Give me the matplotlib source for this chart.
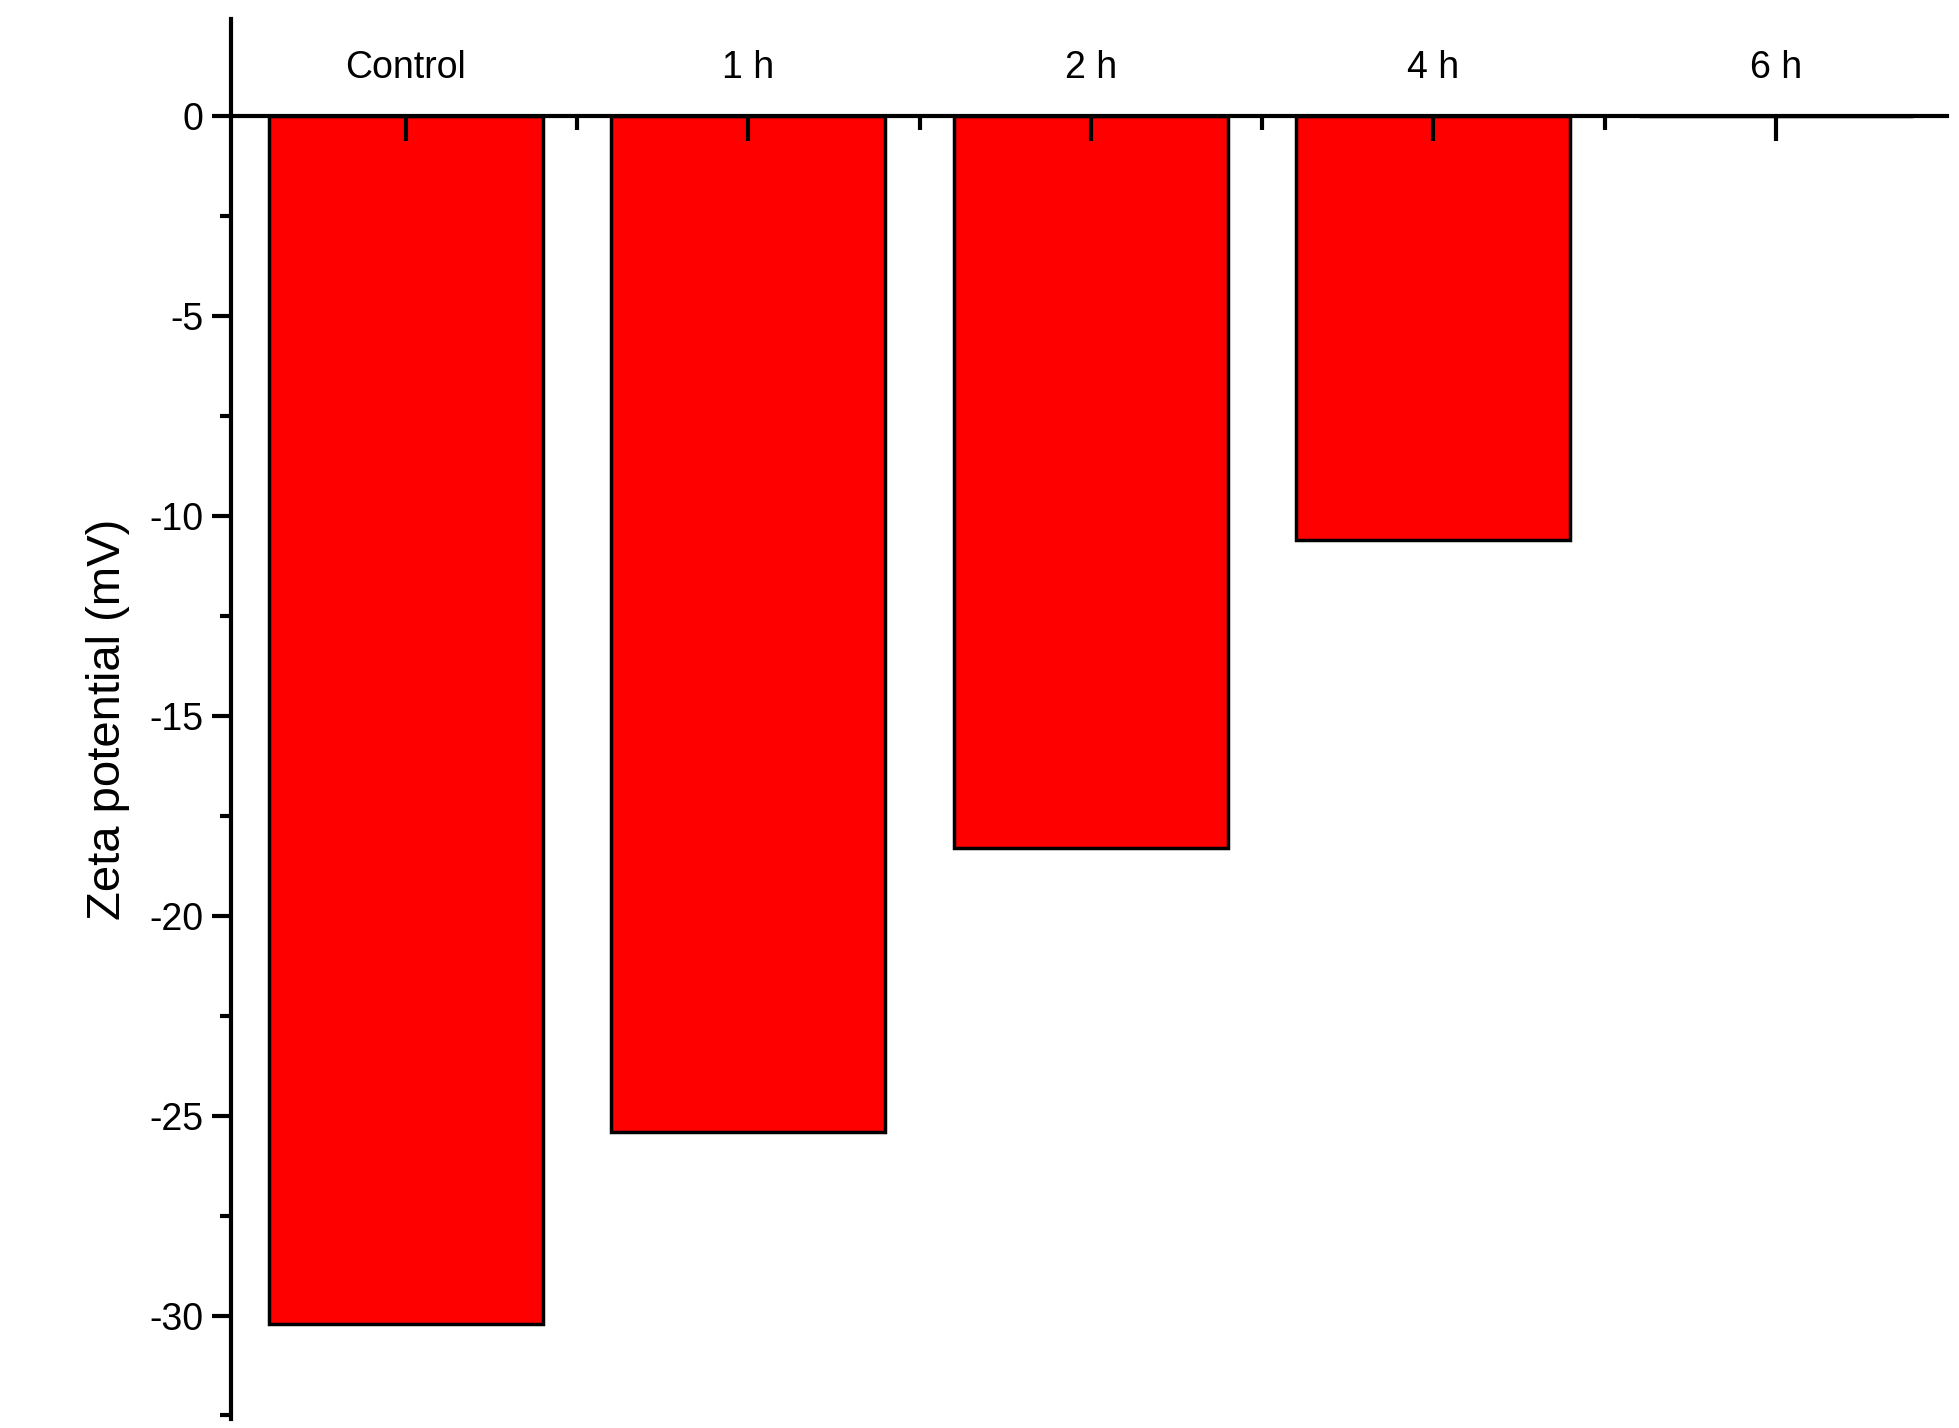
import numpy as np
import matplotlib.pyplot as plt
from matplotlib.ticker import MultipleLocator

plt.rcParams['font.family'] = ['Liberation Sans', 'DejaVu Sans']

categories = ['Control', '1 h', '2 h', '4 h', '6 h']
zeta = [-30.2, -25.4, -18.3, -10.6, 0.0]

fig = plt.figure(figsize=(19.59, 14.28), dpi=100)
ax = fig.add_axes([0.118, 0.006, 0.876, 0.981])

x = np.arange(len(categories))
ax.bar(x, zeta, width=0.8, color='#ff0000', edgecolor='black', linewidth=2.5)

ax.set_xlim(-0.51, 4.5)
ax.set_ylim(-32.6, 2.45)

for s in ['right', 'bottom']:
    ax.spines[s].set_visible(False)
ax.spines['top'].set_position(('data', 0))
ax.spines['top'].set_linewidth(3)
ax.spines['left'].set_linewidth(3)

ax.xaxis.tick_top()
ax.set_xticks(x)
ax.set_xticklabels(categories)
ax.xaxis.set_minor_locator(MultipleLocator(1))
ax.set_xticks(x[:-1] + 0.5, minor=True)
ax.tick_params(axis='x', which='major', direction='in', length=18, width=3,
               labelsize=27, pad=22)
ax.tick_params(axis='x', which='minor', direction='in', length=10, width=3)

ax.yaxis.set_major_locator(MultipleLocator(5))
ax.yaxis.set_minor_locator(MultipleLocator(2.5))
ax.tick_params(axis='y', which='major', direction='out', length=14, width=3,
               labelsize=27, pad=6)
ax.tick_params(axis='y', which='minor', direction='out', length=8, width=3)
ax.set_yticks([0, -5, -10, -15, -20, -25, -30])
ax.set_yticklabels(['0', '-5', '-10', '-15', '-20', '-25', '-30'])

ax.set_ylabel('Zeta potential (mV)', fontsize=34, labelpad=14)

fig.savefig('out.png', dpi=100)
